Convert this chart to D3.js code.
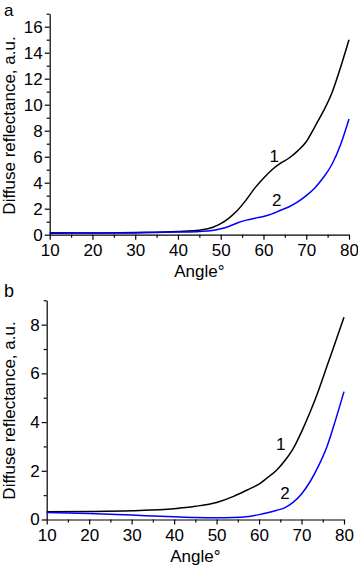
<!DOCTYPE html>
<html>
<head>
<meta charset="utf-8">
<script src="https://cdn.jsdelivr.net/npm/d3@7"></script>
<style>
  body { margin: 0; background: #fff; }
  svg { display: block; font-family: "Liberation Sans", Arial, sans-serif; }
</style>
</head>
<body>
<svg id="chart" width="358" height="565"></svg>
<script>
// dados (angulo em graus, reflectancia em u.a.)
const anglesA = [10, 20, 30, 40, 45, 48, 50, 52, 54, 56, 58, 60, 62, 64, 66, 68, 70, 72, 74, 76, 78, 80];
const curveA1 = [0.12, 0.13, 0.17, 0.25, 0.35, 0.55, 0.85, 1.3, 1.9, 2.7, 3.6, 4.35, 5.0, 5.5, 5.9, 6.45, 7.15, 8.3, 9.5, 10.9, 12.85, 15.0];
const curveA2 = [0.15, 0.13, 0.14, 0.2, 0.25, 0.32, 0.45, 0.65, 0.92, 1.12, 1.27, 1.4, 1.6, 1.88, 2.15, 2.52, 3.0, 3.6, 4.4, 5.4, 6.9, 8.9];

const anglesB1 = [10, 20, 30, 40, 45, 50, 54, 58, 60, 62, 64, 66, 68, 70, 72, 74, 76, 78, 80];
const curveB1 = [0.32, 0.33, 0.36, 0.44, 0.54, 0.7, 0.95, 1.28, 1.45, 1.72, 2.0, 2.4, 2.9, 3.6, 4.4, 5.3, 6.3, 7.3, 8.3];
const anglesB2 = [10, 20, 30, 40, 45, 50, 54, 57, 60, 62, 64, 66, 68, 70, 72, 74, 76, 78, 80];
const curveB2 = [0.29, 0.25, 0.18, 0.11, 0.08, 0.07, 0.08, 0.11, 0.2, 0.28, 0.37, 0.48, 0.7, 1.05, 1.55, 2.2, 3.0, 4.08, 5.25];

const xTicks = [10, 20, 30, 40, 50, 60, 70, 80];
const xMinor = [15, 25, 35, 45, 55, 65, 75];
const yTicksA = [0, 2, 4, 6, 8, 10, 12, 14, 16];
const yMinorA = [1, 3, 5, 7, 9, 11, 13, 15, 17];
const yTicksB = [0, 2, 4, 6, 8];
const yMinorB = [1, 3, 5, 7, 9];

const FONT = 17;
const svg = d3.select('#chart');

const drawPanel = (p) => {
    const x = d3.scaleLinear().domain([10, 80]).range([p.left, p.right]);
    const y = d3.scaleLinear().domain([0, p.yMax]).range([p.bottom, p.top]);
    const g = svg.append('g');

    // eixo y (maiores + menores)
    g.append('g').attr('transform', `translate(${p.left},0)`)
        .call(d3.axisLeft(y).tickValues(p.yTicks).tickSize(5).tickPadding(2).tickSizeOuter(0));
    g.append('g').attr('transform', `translate(${p.left},0)`)
        .call(d3.axisLeft(y).tickValues(p.yMinor).tickSize(3).tickFormat('').tickSizeOuter(0))
        .select('.domain').remove();

    // eixo x
    g.append('g').attr('transform', `translate(0,${p.bottom})`)
        .call(d3.axisBottom(x).tickValues(xTicks).tickSize(5).tickPadding(4).tickSizeOuter(0));
    g.append('g').attr('transform', `translate(0,${p.bottom})`)
        .call(d3.axisBottom(x).tickValues(xMinor).tickSize(3).tickFormat('').tickSizeOuter(0))
        .select('.domain').remove();

    g.selectAll('.tick text').attr('font-size', FONT).attr('font-family', null).attr('fill', '#000');
    g.selectAll('.domain, .tick line').attr('stroke', '#000').attr('stroke-width', 1.2);

    const line = d3.line().x(d => x(d[0])).y(d => y(d[1])).curve(d3.curveMonotoneX);
    p.series.forEach(s => {
        g.append('path')
            .datum(d3.zip(s.xs, s.ys))
            .attr('d', line)
            .attr('fill', 'none')
            .attr('stroke', s.color)
            .attr('stroke-width', 1.5);
        g.append('text')
            .attr('x', x(s.label[0])).attr('y', y(s.label[1]))
            .attr('text-anchor', 'middle')
            .attr('font-size', FONT)
            .text(s.name);
    });

    // titulos dos eixos
    g.append('text')
        .attr('x', (p.left + p.right) / 2).attr('y', p.bottom + 42)
        .attr('text-anchor', 'middle').attr('font-size', FONT)
        .text('Angle°');
    g.append('text')
        .attr('transform', `translate(15,${p.yMid}) rotate(-90)`)
        .attr('text-anchor', 'middle').attr('font-size', FONT)
        .text('Diffuse reflectance, a.u.');
    g.append('text')
        .attr('x', 4).attr('y', p.letterY)
        .attr('font-size', p.letterSize)
        .text(p.letter);
};

drawPanel({
    left: 49.7, right: 349, top: 13.7, bottom: 234.7, yMax: 17,
    yTicks: yTicksA, yMinor: yMinorA, yMid: 125.5, letter: 'a', letterY: 16, letterSize: 17,
    series: [
        { xs: anglesA, ys: curveA1, color: '#000', name: '1', label: [62.5, 5.6] },
        { xs: anglesA, ys: curveA2, color: '#0000ff', name: '2', label: [63.1, 2.2] }
    ]
});

drawPanel({
    left: 46.7, right: 344, top: 300.3, bottom: 519.5, yMax: 9,
    yTicks: yTicksB, yMinor: yMinorB, yMid: 410.5, letter: 'b', letterY: 297, letterSize: 18,
    series: [
        { xs: anglesB1, ys: curveB1, color: '#000', name: '1', label: [65.1, 2.85] },
        { xs: anglesB2, ys: curveB2, color: '#0000ff', name: '2', label: [66.1, 0.84] }
    ]
});
</script>
</body>
</html>
